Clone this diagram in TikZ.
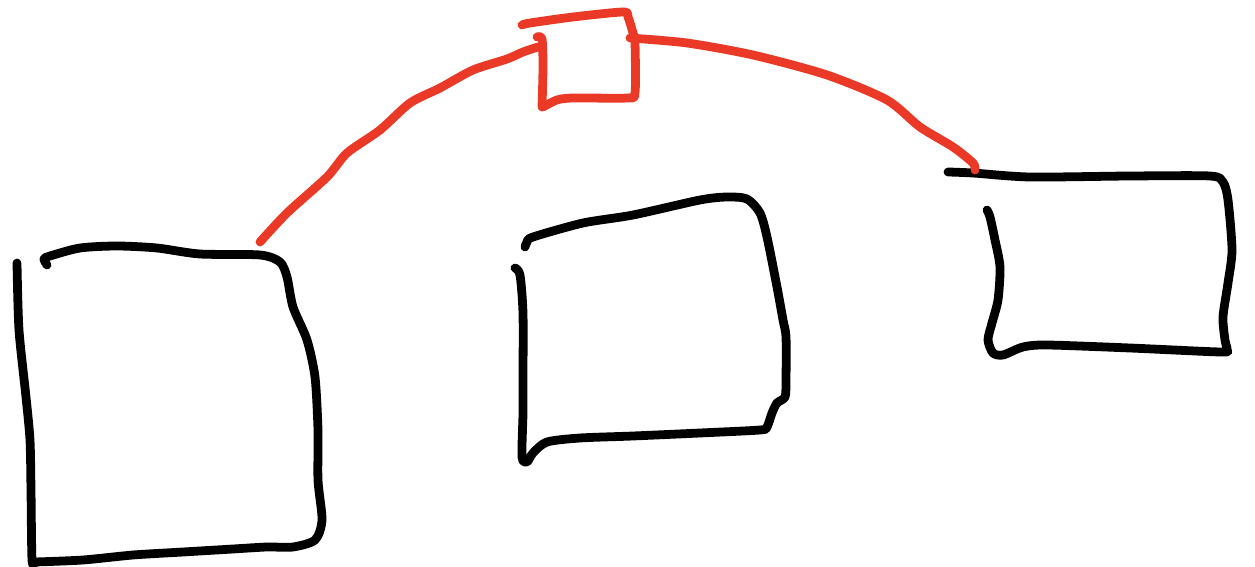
\documentclass[tikz,border=0pt]{standalone}
\usepackage{xcolor}
\usepackage{tikz}

\definecolor{inkred}{HTML}{EA3A27}

\begin{document}
\begin{tikzpicture}[
      x=0.02cm, y=-0.02cm,
      pen/.style={line width=5pt, line cap=round, line join=round, black},
      redpen/.style={pen, inkred},
      hand/.style={smooth, tension=0.45},
    ]
    \useasboundingbox (0,0) rectangle (1255,567);

    %% ── anchor points for the red links ─────────────────────────────────────
    \coordinate (leftTop)   at (260,242);
    \coordinate (hubLeft)   at (538,47);
    \coordinate (hubRight)  at (630,38);
    \coordinate (rightTop)  at (975,170);

    %% ── LEFT BOX ────────────────────────────────────────────────────────────
    \draw[pen] plot[hand] coordinates {(17,263) (19,330) (26,397) (30,440)
      (31,490) (32,560) (35,562)};
    \draw[pen] plot[hand] coordinates {(47,265) (44,259) (50,256) (80,248)
      (117,246) (157,248) (200,254) (260,255) (280,262) (287,277) (293,307)
      (307,340) (315,377) (318,430) (318,480) (322,520) (315,540) (293,547)
      (267,547) (233,549) (183,552) (133,555) (83,560) (35,562)};

    %% ── MIDDLE BOX ──────────────────────────────────────────────────────────
    \draw[pen] plot[hand] coordinates {(515,268) (520,275) (523,313) (523,380)
      (523,413) (522,457) (527,462) (533,453) (547,442) (580,438) (633,436)
      (700,433) (760,430) (767,427) (772,413) (777,403) (785,397) (786,380)
      (786,337) (783,320) (777,287) (767,237) (760,213) (747,199) (727,197)
      (700,200) (633,215) (583,223) (533,237) (527,242) (525,247)};

    %% ── RIGHT BOX ───────────────────────────────────────────────────────────
    \draw[pen] plot[hand] coordinates {(948,172) (973,173) (1030,177)
      (1130,176) (1210,176) (1223,182) (1228,200) (1232,250) (1228,283)
      (1223,317) (1225,340) (1227,350) (1220,352) (1130,348) (1047,345)
      (1023,347) (1003,355) (993,353) (988,340) (992,323) (998,300) (1000,267)
      (995,240) (990,217) (987,210)};

    %% ── RED HUB ─────────────────────────────────────────────────────────────
    \draw[redpen] plot[hand] coordinates {(522,25) (530,23) (573,17) (623,12)
      (628,17) (633,33) (635,43) (635,93) (627,98) (573,98) (557,100)
      (543,107)};
    \draw[redpen] plot[hand] coordinates {(537,37) (542,39) (543,67)
      (542,107)};

    %% ── RED LINKS ───────────────────────────────────────────────────────────
    \draw[redpen] plot[hand] coordinates {(leftTop) (287,213) (327,177)
      (347,153) (380,130) (410,103) (440,88) (473,70) (507,59) (523,52)
      (hubLeft)};
    \draw[redpen] plot[hand] coordinates {(hubRight) (687,43) (753,55)
      (827,75) (887,100) (920,127) (953,147) (973,163) (rightTop)};

  \end{tikzpicture}
\end{document}
